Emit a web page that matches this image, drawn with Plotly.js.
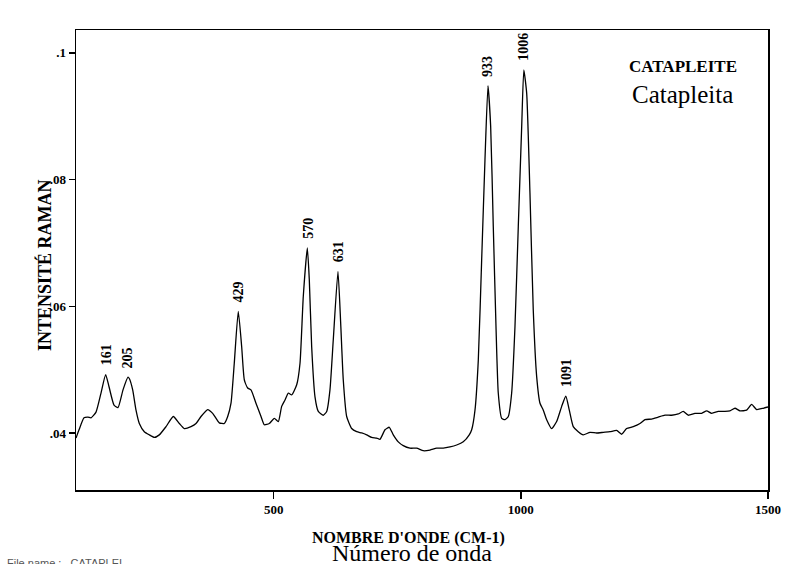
<!DOCTYPE html>
<html>
<head>
<meta charset="utf-8">
<script src="https://cdn.plot.ly/plotly-3.0.1.min.js"></script>
<style>html,body{margin:0;padding:0;background:#fff;}#chart{width:800px;height:564px;}</style>
</head>
<body>
<div id="chart"></div>
<script>
// Raman shift (cm-1)
var wavenumber = [100,106.1,116.2,124.3,130.3,140.5,150.6,160,166.8,176.9,185,195.1,205.2,207.8,214.7,221.4,228.1,238.2,248.3,258.4,268.5,282.1,296.8,309,319.1,332.6,342.8,352.9,366.4,376.5,389.9,400,406.9,413.6,420.2,428.3,435.2,440.5,447.3,454,464.1,474.3,480.9,491,501.2,509.3,516.1,522.8,529.5,536.4,546.5,553.2,559.8,568,572,576.8,583.5,590.2,600.3,607.2,613.8,620.5,630,635.5,640.7,647.6,657.7,667.9,678,688.1,698.2,708.3,715,725.1,733.8,741.9,752,762.1,775.7,789.2,802.6,816.1,829.7,843,856.6,870.1,883.5,895.6,900.5,907.2,913.9,920.7,927.4,933.5,938.9,944.2,949.7,954.3,961.2,967.9,974.6,981.4,988.1,994.8,1001.7,1006,1011.8,1018.4,1025.1,1032,1038.7,1045.4,1052.2,1062.3,1072.4,1082.6,1091,1098,1106,1116.1,1126.2,1139.8,1153.3,1166.7,1180.3,1193.8,1203.9,1214,1227.4,1241,1251.1,1264.6,1278,1291.5,1305.1,1318.4,1328.5,1338.7,1352.2,1365.8,1375.9,1386,1399.4,1412.9,1423,1433.2,1443.3,1456.8,1466.9,1477.1,1490.4,1500];
// Raman intensity
var intensity = [0.0392,0.0405,0.0424,0.0425,0.0424,0.0433,0.0463,0.0492,0.0473,0.0444,0.0440,0.0468,0.0488,0.0486,0.0468,0.0436,0.0415,0.0402,0.0397,0.0393,0.0397,0.0410,0.0426,0.0415,0.0407,0.0410,0.0415,0.0426,0.0437,0.0431,0.0416,0.0415,0.0426,0.0447,0.0510,0.0592,0.0536,0.0484,0.0471,0.0468,0.0447,0.0426,0.0413,0.0415,0.0423,0.0418,0.0442,0.0452,0.0463,0.0460,0.0476,0.0510,0.0615,0.0692,0.0642,0.0536,0.0457,0.0434,0.0428,0.0434,0.0468,0.0547,0.0655,0.0573,0.0484,0.0426,0.0407,0.0402,0.0400,0.0397,0.0393,0.0392,0.0390,0.0405,0.0409,0.0397,0.0386,0.0380,0.0376,0.0376,0.0372,0.0373,0.0376,0.0376,0.0378,0.0381,0.0386,0.0397,0.0405,0.0436,0.0515,0.0673,0.0831,0.0948,0.0884,0.0726,0.0568,0.0463,0.0423,0.0421,0.0426,0.0463,0.0568,0.0726,0.0884,0.0973,0.0936,0.0779,0.0594,0.0489,0.0447,0.0436,0.0421,0.0407,0.0418,0.0442,0.0458,0.0436,0.0410,0.0402,0.0397,0.0401,0.0400,0.0401,0.0402,0.0404,0.0398,0.0407,0.0410,0.0415,0.0421,0.0422,0.0425,0.0428,0.0428,0.0430,0.0434,0.0428,0.0431,0.0431,0.0435,0.0431,0.0434,0.0434,0.0435,0.0439,0.0435,0.0436,0.0445,0.0437,0.0439,0.0441];
// Labelled peaks
var peakLabels = [161, 205, 429, 570, 631, 933, 1006, 1091];
// Tick labels
var yTickVals = [0.04, 0.06, 0.08, 0.1];
var yTickText = ['.04', '.06', '.08', '.1'];
var xTickVals = [500, 1000, 1500];
var xTickText = ['500', '1000', '1500'];

var serif = '"Liberation Serif", "Times New Roman", serif';

function peakY(p) {
  var best = -1;
  for (var i = 0; i < wavenumber.length; i++) {
    if (Math.abs(wavenumber[i] - p) <= 9 && intensity[i] > best) { best = intensity[i]; }
  }
  return best;
}

var annotations = peakLabels.map(function (p) {
  return {
    x: p, y: peakY(p), xref: 'x', yref: 'y',
    text: '<b>' + p + '</b>', showarrow: false, textangle: -90,
    xanchor: 'center', yanchor: 'bottom', yshift: 7,
    font: {family: serif, size: 14, color: '#000'}
  };
});

annotations.push(
  {x: 0.877, y: 0.9196, xref: 'paper', yref: 'paper', text: '<b>CATAPLEITE</b>', showarrow: false,
   xanchor: 'center', yanchor: 'middle', font: {family: serif, size: 17, color: '#000'}},
  {x: 0.877, y: 0.8587, xref: 'paper', yref: 'paper', text: 'Catapleita', showarrow: false,
   xanchor: 'center', yanchor: 'middle', font: {family: serif, size: 25, color: '#000'}},
  {x: 0.4798, y: -0.104, xref: 'paper', yref: 'paper', text: "<b>NOMBRE D'ONDE (CM-1)</b>", showarrow: false,
   xanchor: 'center', yanchor: 'middle', font: {family: serif, size: 16, color: '#000'}},
  {x: 0.4855, y: -0.136, xref: 'paper', yref: 'paper', text: 'Número de onda', showarrow: false,
   xanchor: 'center', yanchor: 'middle', font: {family: serif, size: 24, color: '#000'}},
  {x: -0.0462, y: 0.489, xref: 'paper', yref: 'paper', text: '<b>INTENSITÉ RAMAN</b>', showarrow: false,
   textangle: -90, xanchor: 'center', yanchor: 'middle', font: {family: serif, size: 18, color: '#000'}},
  {x: -0.103, y: -0.158, xref: 'paper', yref: 'paper', text: 'File name :   CATAPLEI', showarrow: false,
   xanchor: 'left', yanchor: 'middle', font: {family: '"Liberation Sans", Arial, sans-serif', size: 11, color: '#555'}}
);

var trace = {
  x: wavenumber, y: intensity, type: 'scatter', mode: 'lines',
  line: {color: '#000', width: 1.3, shape: 'spline', smoothing: 0.5}, hoverinfo: 'skip'
};

var layout = {
  width: 800, height: 564,
  margin: {l: 76, r: 32, t: 30, b: 74, pad: 0},
  paper_bgcolor: '#fff', plot_bgcolor: '#fff',
  showlegend: false,
  xaxis: {
    range: [100, 1500], showgrid: false, zeroline: false,
    showline: true, mirror: true, linecolor: '#000', linewidth: 1.5,
    ticks: 'outside', ticklen: 7, tickwidth: 1.5, tickcolor: '#000',
    tickvals: xTickVals, ticktext: xTickText,
    tickfont: {family: serif, size: 13, color: '#000', weight: 'bold'}
  },
  yaxis: {
    range: [0.031, 0.1036], showgrid: false, zeroline: false,
    showline: true, mirror: true, linecolor: '#000', linewidth: 1.5,
    ticks: 'outside', ticklen: 6, tickwidth: 1.5, tickcolor: '#000',
    tickvals: yTickVals, ticktext: yTickText,
    tickfont: {family: serif, size: 13, color: '#000', weight: 'bold'}
  },
  annotations: annotations
};

Plotly.newPlot('chart', [trace], layout, {displayModeBar: false, staticPlot: true});
</script>
</body>
</html>
